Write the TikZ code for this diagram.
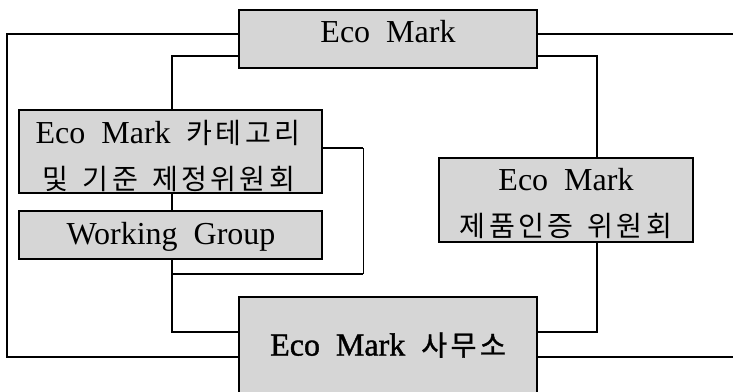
\documentclass[tikz,border=0pt]{standalone}
\usepackage{fontspec}
\setmainfont{Liberation Serif}
\newfontfamily\kr[Scale=0.88,LetterSpace=12]{Noto Sans CJK KR}
\newcommand{\wsp}{\hspace{0.5em}}
\begin{document}
\begin{tikzpicture}[x=1pt,y=-1pt,
  box/.style={draw=black, line width=1.8pt, fill=boxgray, inner sep=0pt},
  lbl/.style={font=\fontsize{32}{36}\selectfont, inner sep=0pt},
  wire/.style={draw=black, line width=1.5pt},
  thinwire/.style={draw=black, line width=1pt}]
\definecolor{boxgray}{RGB}{214,214,214}
\useasboundingbox (0,0) rectangle (733,391);
\begin{scope}
\clip (0,0) rectangle (733,391);
% boxes
\node[box, minimum width=298pt, minimum height=58pt] (top) at (388,39) {};
\node[lbl] (toptxt) at (388,32) {Eco\wsp Mark};
\node[box, minimum width=303pt, minimum height=83pt] (cat) at (170.5,151.5) {};
\node[lbl] (cat1) at (168,133) {Eco\wsp Mark\wsp\kr{카테고리}};
\node[lbl] (cat2) at (169,179) {\kr{및\wsp 기준\wsp 제정위원회}};
\node[box, minimum width=303pt, minimum height=48pt] (wg) at (170.5,235) {};
\node[lbl] (wgtxt) at (171,237) {Working\wsp Group};
\node[box, minimum width=254pt, minimum height=84pt] (prod) at (566,200) {};
\node[lbl] (prod1) at (566,180) {Eco\wsp Mark};
\node[lbl] (prod2) at (566,226) {\kr{제품인증\wsp 위원회}};
\node[box, minimum width=298pt, minimum height=100pt] (off) at (388,347) {};
\node[lbl] (offtxt) at (388,345) {\addfontfeature{FakeBold=1.2}Eco\wsp Mark\wsp{\kr\addfontfeature{FakeBold=1.2}사무소}};
% coordinates
\coordinate (oL1) at (7,34);
\coordinate (oL2) at (7,357);
\coordinate (oR1) at (733,34);
\coordinate (oR2) at (733,357);
\coordinate (mL) at (172,56);
\coordinate (mR) at (597,56);
\coordinate (mR2) at (597,332);
\coordinate (wL) at (172,332);
\coordinate (lp1) at (363,148);
\coordinate (lp2) at (363,274);
\coordinate (lp3) at (172,274);
% outer loop
\draw[wire] (top.west |- oL1) -- (oL1) -- (oL2) -- (off.west |- oL2);
\draw[wire] (top.east |- oR1) -- (oR1);
\draw[wire] (off.east |- oR2) -- (oR2);
% middle loop
\draw[wire] (top.west |- mL) -- (mL) -- (cat.north -| mL);
\draw[wire] (top.east |- mR) -- (mR) -- (prod.north -| mR);
\draw[wire] (prod.south -| mR) -- (mR2) -- (off.east |- mR2);
\draw[wire] (cat.south -| mL) -- (wg.north -| mL);
\draw[wire] (wg.south -| mL) -- (wL) -- (off.west |- wL);
% small loop
\draw[wire] (cat.east |- lp1) -- (lp1);
\draw[thinwire] (lp1) -- (lp2);
\draw[wire] (lp2) -- (lp3);
\end{scope}
\end{tikzpicture}
\end{document}
